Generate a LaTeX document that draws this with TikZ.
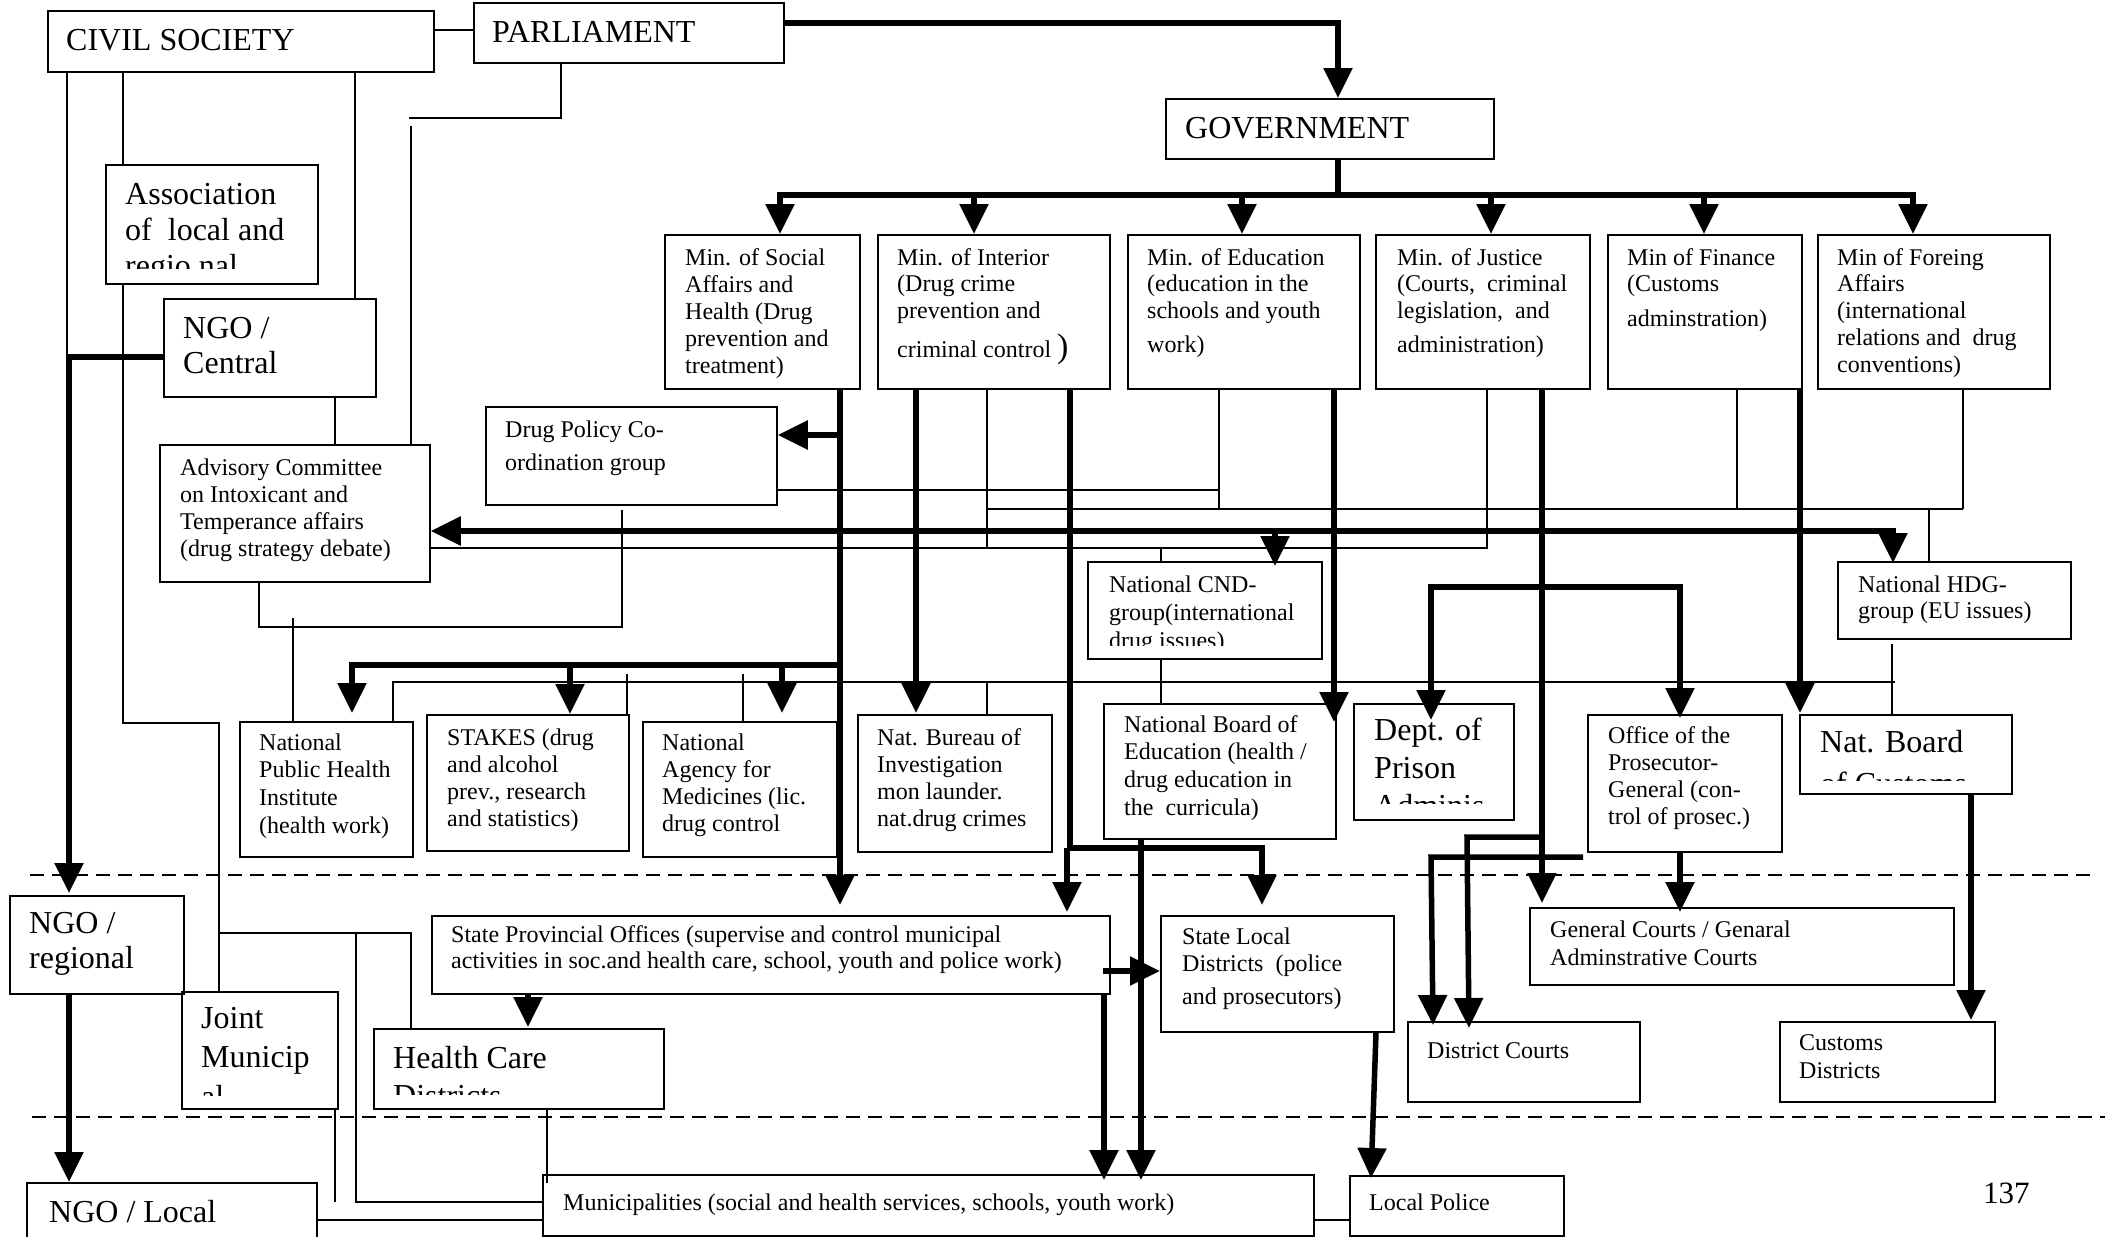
\documentclass[tikz,border=0pt]{standalone}
\usepackage{fontspec}
\setmainfont{Liberation Serif}
\usetikzlibrary{arrows.meta}
\newcommand\lyn[1]{\hbox{#1}}
\newcommand\tb[2]{\vtop{\baselineskip=#1\lineskiplimit=-1000pt\lineskip=0pt\relax #2}}
\newcommand\bx[5]{\node[box, minimum width={(#4-#2)*1pt}, minimum height={(#5-#3)*1pt}] (#1) at (#2,#3) {};}
\begin{document}
\begin{tikzpicture}[x=1pt,y=-1pt,
  box/.style={draw, line width=1.8pt, inner sep=0pt, anchor=north west},
  txt/.style={inner sep=0pt, anchor=base west, font=\fontsize{24pt}{27pt}\selectfont},
  big/.style={inner sep=0pt, anchor=base west, font=\fontsize{32pt}{36pt}\selectfont},
  thn/.style={line width=1.6pt},
  thk/.style={line width=5.5pt},
  arr/.style={-{Triangle[length=30pt,width=28pt]}},
  arrb/.style={{Triangle[length=30pt,width=28pt]}-{Triangle[length=30pt,width=28pt]}},
  dsh/.style={line width=2.8pt, dash pattern=on 14pt off 8pt}]
\useasboundingbox (0,0) rectangle (2105,1237);
\fill[white] (0,0) rectangle (2105,1237);
\clip (0,0) rectangle (2105,1237);

% dashed level separators
\draw[dsh] (30,875) -- (2092,875);
\draw[dsh] (32,1117) -- (2105,1117);

% boxes
\bx{civ}{47}{10}{433}{71}
\bx{parl}{473}{2}{783}{62}
\bx{gov}{1165}{98}{1493}{158}
\bx{assoc}{105}{164}{317}{283}
\bx{ngoc}{163}{298}{375}{396}
\bx{adv}{159}{444}{429}{581}
\bx{dpc}{485}{406}{776}{504}
\bx{msoc}{664}{234}{859}{388}
\bx{mint}{877}{234}{1109}{388}
\bx{medu}{1127}{234}{1359}{388}
\bx{mjus}{1375}{234}{1589}{388}
\bx{mfin}{1607}{234}{1801}{388}
\bx{mfor}{1817}{234}{2049}{388}
\bx{cnd}{1087}{561}{1321}{658}
\bx{hdg}{1837}{561}{2070}{638}
\bx{nphi}{239}{721}{412}{856}
\bx{stakes}{426}{714}{628}{850}
\bx{nam}{642}{721}{836}{856}
\bx{nbi}{857}{714}{1051}{851}
\bx{nbe}{1103}{703}{1335}{838}
\bx{prison}{1353}{703}{1513}{819}
\bx{pros}{1587}{714}{1781}{851}
\bx{nbc}{1799}{714}{2011}{793}
\bx{ngor}{9}{895}{183}{993}
\bx{spo}{431}{915}{1109}{993}
\bx{sld}{1160}{915}{1393}{1031}
\bx{gcourt}{1529}{907}{1953}{984}
\bx{dcourt}{1407}{1021}{1639}{1101}
\bx{cdist}{1779}{1021}{1994}{1101}
\bx{joint}{181}{991}{337}{1108}
\bx{hcd}{373}{1028}{663}{1108}
\bx{ngol}{26}{1182}{316}{1262}
\bx{muni}{542}{1174}{1313}{1235}
\bx{lpol}{1349}{1175}{1563}{1235}

% texts
\node[big] (civ-t) at (66,50) {CIVIL SOCIETY};
\node[big] (parl-t) at (492,42) {PARLIAMENT};
\node[big] (gov-t) at (1185,138) {GOVERNMENT};
\begin{scope}
\clip (105,164) rectangle (317,268);
\node[big] (assoc-t) at (125,204) {\tb{36pt}{\lyn{Association}\lyn{of\ \ local and}\lyn{regio nal}}};
\end{scope}
\node[big] (ngoc-t) at (183,338) {\tb{35pt}{\lyn{NGO /}\lyn{Central}}};
\node[txt] (adv-t) at (180,475) {\tb{27.3pt}{\lyn{Advisory Committee}\lyn{on Intoxicant and}\lyn{Temperance affairs}\lyn{(drug strategy debate)}}};
\node[txt] (dpc-t) at (505,437) {\tb{33pt}{\lyn{Drug Policy Co-}\lyn{ordination group}}};
\node[txt] (msoc-t) at (685,265) {\tb{27.2pt}{\lyn{Min. of Social}\lyn{Affairs and}\lyn{Health (Drug}\lyn{prevention and}\lyn{treatment)}}};
\node[txt] (mint-t) at (897,265) {\tb{26.5pt}{\lyn{Min. of Interior}\lyn{(Drug crime}\lyn{prevention and}\vskip 13pt\lyn{criminal control {\fontsize{34pt}{34pt}\selectfont)}}}};
\node[txt] (medu-t) at (1147,265) {\tb{26.5pt}{\lyn{Min. of Education}\lyn{(education in the}\lyn{schools and youth}\vskip 7.5pt\lyn{work)}}};
\node[txt] (mjus-t) at (1397,265) {\tb{26.5pt}{\lyn{Min. of Justice}\lyn{(Courts,\ \ criminal}\lyn{legislation,\ \ and}\vskip 7.5pt\lyn{administration)}}};
\node[txt] (mfin-t) at (1627,265) {\tb{26.5pt}{\lyn{Min of Finance}\lyn{(Customs}\vskip 8pt\lyn{adminstration)}}};
\node[txt] (mfor-t) at (1837,265) {\tb{26.8pt}{\lyn{Min of Foreing}\lyn{Affairs}\lyn{(international}\lyn{relations and\ \ drug}\lyn{conventions)}}};
\begin{scope}
\clip (1087,561) rectangle (1321,645);
\node[txt] (cnd-t) at (1109,592) {\tb{28pt}{\lyn{National CND-}\lyn{group(international}\lyn{drug issues)}}};
\end{scope}
\node[txt] (hdg-t) at (1858,592) {\tb{26pt}{\lyn{National HDG-}\lyn{group (EU issues)}}};
\node[txt] (nphi-t) at (259,750) {\tb{27.7pt}{\lyn{National}\lyn{Public Health}\lyn{Institute}\lyn{(health work)}}};
\node[txt] (stakes-t) at (447,745) {\tb{27.3pt}{\lyn{STAKES (drug}\lyn{and alcohol}\lyn{prev., research}\lyn{and statistics)}}};
\node[txt] (nam-t) at (662,750) {\tb{27.3pt}{\lyn{National}\lyn{Agency for}\lyn{Medicines (lic.}\lyn{drug control}}};
\node[txt] (nbi-t) at (877,745) {\tb{27.3pt}{\lyn{Nat. Bureau of}\lyn{Investigation}\lyn{mon launder.}\lyn{nat.drug crimes}}};
\node[txt] (nbe-t) at (1124,732) {\tb{27.7pt}{\lyn{National Board of}\lyn{Education (health /}\lyn{drug education in}\lyn{the\ \ curricula)}}};
\begin{scope}
\clip (1353,703) rectangle (1513,803);
\node[big] (prison-t) at (1374,740) {\tb{38pt}{\lyn{Dept. of}\lyn{Prison}\lyn{Adminis}}};
\end{scope}
\node[txt] (pros-t) at (1608,743) {\tb{27.3pt}{\lyn{Office of the}\lyn{Prosecutor-}\lyn{General (con-}\lyn{trol of prosec.)}}};
\begin{scope}
\clip (1799,714) rectangle (2011,780);
\node[big] (nbc-t) at (1820,752) {\tb{42pt}{\lyn{Nat. Board}\lyn{of Customs}}};
\end{scope}
\node[txt] (spo-t) at (451,942) {\tb{26pt}{\lyn{State Provincial Offices (supervise and control municipal}\lyn{activities in soc.and health care, school, youth and police work)}}};
\node[txt] (sld-t) at (1182,944) {\tb{27pt}{\lyn{State Local}\lyn{Districts\ \ (police}\vskip 6pt\lyn{and prosecutors)}}};
\node[txt] (gcourt-t) at (1550,937) {\tb{28pt}{\lyn{General Courts / Genaral}\lyn{Adminstrative Courts}}};
\node[txt] (dcourt-t) at (1427,1058) {District Courts};
\node[txt] (cdist-t) at (1799,1050) {\tb{28pt}{\lyn{Customs}\lyn{Districts}}};
\node[big] (ngor-t) at (29,933) {\tb{35pt}{\lyn{NGO /}\lyn{regional}}};
\begin{scope}
\clip (181,991) rectangle (337,1095);
\node[big] (joint-t) at (201,1028) {\tb{39.5pt}{\lyn{Joint}\lyn{Municip}\lyn{al}}};
\end{scope}
\begin{scope}
\clip (373,1028) rectangle (663,1094);
\node[big] (hcd-t) at (393,1068) {\tb{38pt}{\lyn{Health Care}\lyn{Districts}}};
\end{scope}
\node[big] (ngol-t) at (49,1222) {NGO / Local};
\node[txt] (muni-t) at (563,1210) {Municipalities (social and health services, schools, youth work)};
\node[txt] (lpol-t) at (1369,1210) {Local Police};
\node[big, font=\fontsize{31pt}{34pt}\selectfont] (page-t) at (1983,1203) {137};

% thin connectors
\draw[thn] (civ.east |- 0,30) -- (parl.west |- 0,30);
\draw[thn] (67,0 |- civ.south) -- (67,357);
\draw[thn] (123,0 |- civ.south) -- (123,0 |- assoc.north);
\draw[thn] (123,0 |- assoc.south) -- (123,723) -- (219,723) -- (219,0 |- joint.north);
\draw[thn] (355,0 |- civ.south) -- (355,0 |- ngoc.north);
\draw[thn] (335,0 |- ngoc.south) -- (335,0 |- adv.north);
\draw[thn] (561,0 |- parl.south) -- (561,118) -- (409,118);
\draw[thn] (411,126) -- (411,0 |- adv.north);
\draw[thn] (adv.east |- 0,548) -- (1487,548) -- (1487,0 |- mjus.south);
\draw[thn] (987,0 |- mint.south) -- (987,548);
\draw[thn] (dpc.east |- 0,490) -- (1219,490);
\draw[thn] (1219,0 |- medu.south) -- (1219,509);
\draw[thn] (987,509) -- (1963,509);
\draw[thn] (1737,0 |- mfin.south) -- (1737,509);
\draw[thn] (1963,0 |- mfor.south) -- (1963,509);
\draw[thn] (1929,509) -- (1929,0 |- hdg.north);
\draw[thn] (1161,548) -- (1161,0 |- cnd.north);
\draw[thn] (1161,0 |- cnd.south) -- (1161,0 |- nbe.north);
\draw[thn] (259,0 |- adv.south) -- (259,627) -- (622,627) -- (622,510);
\draw[thn] (293,618) -- (293,0 |- nphi.north);
\draw[thn] (393,0 |- nphi.north) -- (393,682) -- (1895,682);
\draw[thn] (627,674) -- (627,0 |- stakes.north);
\draw[thn] (743,674) -- (743,0 |- nam.north);
\draw[thn] (987,682) -- (987,0 |- nbi.north);
\draw[thn] (1892,644) -- (1892,0 |- nbc.north);
\draw[thn] (219,933) -- (411,933) -- (411,0 |- hcd.north);
\draw[thn] (356,933) -- (356,1202) -- (muni.west |- 0,1202);
\draw[thn] (335,0 |- joint.south) -- (335,1202);
\draw[thn] (547,0 |- hcd.south) -- (547,1183);
\draw[thn] (ngol.east |- 0,1220) -- (muni.west |- 0,1220);
\draw[thn] (muni.east |- 0,1220) -- (lpol.west |- 0,1220);

% thick connectors
\draw[thk,arr] (parl.east |- 0,23) -- (1338,23) -- (1338,0 |- gov.north);
\draw[thk] (1338,0 |- gov.south) -- (1338,195);
\draw[thk,arrb] (780,0 |- msoc.north) -- (780,195) -- (1913,195) -- (1913,0 |- mfor.north);
\foreach \x/\n in {974/mint,1242/medu,1491/mjus,1704/mfin}
  \draw[thk,arr] (\x,195) -- (\x,0 |- \n.north);
\draw[thk,arr] (840,0 |- msoc.south) -- (840,905);
\draw[thk,arr] (840,435) -- (dpc.east |- 0,435);
\draw[thk,arr] (840,665) -- (352,665) -- (352,713);
\draw[thk,arr] (570,665) -- (570,714);
\draw[thk,arr] (782,665) -- (782,713);
\draw[thk,arrb] (adv.east |- 0,531) -- (1893,531) -- (1893,563);
\draw[thk,arr] (1275,531) -- (1275,566);
\draw[thk,arr] (916,0 |- mint.south) -- (916,713);
\draw[thk,arr] (1070,0 |- mint.south) -- (1070,848) -- (1262,848) -- (1262,905);
\draw[thk,arr] (1067,848) -- (1067,912);
\draw[thk,arr] (1334,0 |- medu.south) -- (1334,722);
\draw[thk,arr] (1141,0 |- nbe.south) -- (1141,1180);
\draw[thk,arr] (1542,0 |- mjus.south) -- (1542,903);
\draw[thk,arrb] (1431,720) -- (1431,587) -- (1680,587) -- (1680,718);
\draw[thk,arr] (1542,837) -- (1467,837) -- (1469,1028);
\draw[thk,arr] (1583,857) -- (1431,857) -- (1433,1025);
\draw[thk,arr] (1680,0 |- pros.south) -- (1680,912);
\draw[thk,arr] (1800,0 |- mfin.south) -- (1800,713);
\draw[thk,arr] (1971,0 |- nbc.south) -- (1971,1020);
\draw[thk,arr] (528,0 |- spo.south) -- (528,1027);
\draw[thk,arr] (1104,0 |- spo.south) -- (1104,1180);
\draw[thk,arr] (1103,971) -- (sld.west |- 0,971);
\draw[thk,arr] (1376,0 |- sld.south) -- (1371,1178);
\draw[thk,arr] (ngoc.west |- 0,357) -- (69,357) -- (69,893);
\draw[thk,arr] (69,0 |- ngor.south) -- (69,1182);
\end{tikzpicture}
\end{document}
